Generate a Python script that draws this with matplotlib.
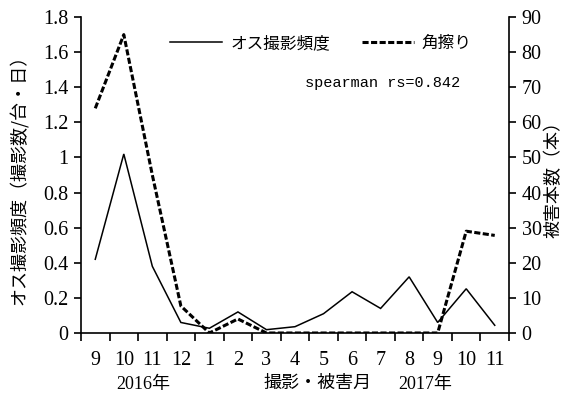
import matplotlib
matplotlib.use("Agg")
import matplotlib.pyplot as plt
import numpy as np

# Monthly records, Sep 2016 - Nov 2017
months = ["9", "10", "11", "12", "1", "2", "3", "4", "5", "6", "7", "8", "9", "10", "11"]
male_freq = [0.42, 1.02, 0.38, 0.06, 0.027, 0.12, 0.019, 0.036, 0.11, 0.235, 0.14, 0.32, 0.06, 0.252, 0.044]
rubbing = [64, 85, 45, 7.7, 0, 4, 0, 0, 0, 0, 0, 0, 0, 29, 27.8]
left_ticks = [0, 0.2, 0.4, 0.6, 0.8, 1.0, 1.2, 1.4, 1.6, 1.8]
left_labels = ["0", "0.2", "0.4", "0.6", "0.8", "1", "1.2", "1.4", "1.6", "1.8"]
right_ticks = [0, 10, 20, 30, 40, 50, 60, 70, 80, 90]

JP = ["Noto Sans CJK JP", "DejaVu Sans"]
NUM = "Liberation Serif"
TICK_FS = 14.5

fig = plt.figure(figsize=(5.7, 3.97), dpi=100)
ax = fig.add_axes([0.1421, 0.1612, 0.893 - 0.1421, 0.957 - 0.1612])
ax2 = ax.twinx()

x = np.arange(len(months))
l1, = ax.plot(x, male_freq, color="black", lw=1.1, solid_joinstyle="miter")
l2, = ax2.plot(x, rubbing, color="black", lw=2.2, linestyle=(0, (2.0, 0.8)))

ax.set_xlim(-0.5, len(months) - 0.5)
ax.set_ylim(0, 1.8)
ax2.set_ylim(0, 90)

# category labels at centres, tick marks between categories
ax.set_xticks(x)
ax.set_xticklabels(months, fontfamily=NUM, fontsize=TICK_FS)
ax.set_xticks(np.arange(-0.5, len(months), 1.0), minor=True)
ax.tick_params(axis="x", which="major", length=0, pad=13)
ax.tick_params(axis="x", which="minor", length=6, width=1.2, direction="out")

ax.set_yticks(left_ticks)
ax.set_yticklabels(left_labels, fontfamily=NUM, fontsize=TICK_FS)
ax.tick_params(axis="y", length=5, width=1.2, direction="out", pad=4)

ax2.set_yticks(right_ticks)
ax2.set_yticklabels([str(t) for t in right_ticks], fontfamily=NUM, fontsize=TICK_FS)
ax2.tick_params(axis="y", length=5, width=1.2, direction="out", pad=4)

for a in (ax, ax2):
    a.spines["top"].set_visible(False)
    for s in ("left", "right", "bottom"):
        a.spines[s].set_linewidth(1.2)
ax.spines["right"].set_visible(False)
ax2.spines["left"].set_visible(False)
ax2.spines["bottom"].set_visible(False)

ax.set_ylabel("オス撮影頻度（撮影数/台・日）", fontfamily=JP, fontsize=13, labelpad=10)
ax2.set_ylabel("被害本数（本）", fontfamily=JP, fontsize=13, labelpad=2)

fig.text(318 / 570, 1 - 383 / 397, "撮影・被害月", fontfamily=JP, fontsize=13,
         ha="center", va="center")
fig.text(143 / 570, 1 - 385 / 397, "2016年", fontfamily=[NUM, "Noto Sans CJK JP"],
         fontsize=13, ha="center", va="center")
fig.text(425 / 570, 1 - 385 / 397, "2017年", fontfamily=[NUM, "Noto Sans CJK JP"],
         fontsize=13, ha="center", va="center")

leg = ax.legend([l1, l2], ["オス撮影頻度", "角擦り"], loc="upper center",
                bbox_to_anchor=(0.561, 0.99), ncol=2, frameon=False,
                prop={"family": JP, "size": 12}, handlelength=3.1,
                columnspacing=1.9, handletextpad=0.5)

ax.text(0.885, 0.79, "spearman rs=0.842", transform=ax.transAxes,
        fontfamily="Liberation Mono", fontsize=11, ha="right", va="center")

fig.savefig("out.png", dpi=100)
